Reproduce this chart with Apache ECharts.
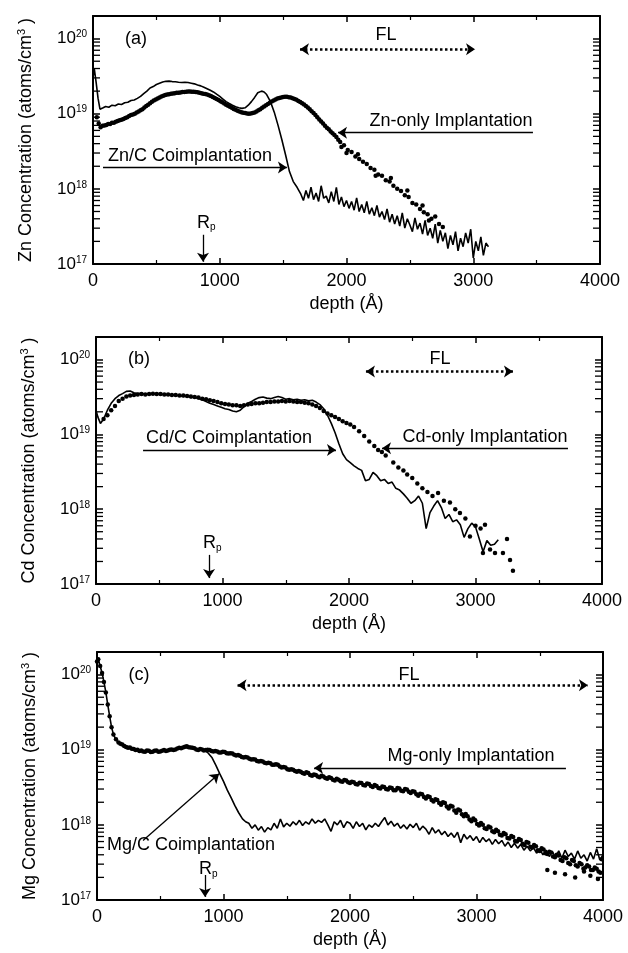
<!DOCTYPE html>
<html>
<head>
<meta charset="utf-8">
<script src="https://cdn.jsdelivr.net/npm/echarts@6/dist/echarts.min.js"></script>
<style>
  html, body { margin: 0; padding: 0; background: #fff; }
  #chart { width: 628px; height: 953px; }
</style>
</head>
<body>
<div id="chart"></div>
<script>
// depth (Å), concentration (atoms/cm^3)
const znCoimpl = [
  [0,3.0e19],[10,4.0e19],[25,2.6e19],[40,1.6e19],[55,1.15e19],[80,1.2e19],[100,1.25e19],[125,1.22e19],[150,1.3e19],
  [175,1.28e19],[200,1.35e19],[225,1.33e19],[250,1.4e19],[275,1.42e19],[300,1.5e19],[325,1.52e19],[350,1.6e19],
  [375,1.7e19],[400,1.85e19],[425,2.0e19],[450,2.2e19],[475,2.3e19],[500,2.45e19],[525,2.55e19],[550,2.65e19],
  [575,2.7e19],[600,2.72e19],[625,2.68e19],[650,2.66e19],[675,2.62e19],[700,2.6e19],[725,2.63e19],[750,2.6e19],
  [775,2.55e19],[800,2.5e19],[825,2.42e19],[850,2.35e19],[875,2.25e19],[900,2.15e19],[925,2.05e19],[950,1.95e19],
  [975,1.82e19],[1000,1.7e19],[1025,1.57e19],[1050,1.45e19],[1075,1.37e19],[1100,1.3e19],[1125,1.24e19],
  [1150,1.2e19],[1175,1.18e19],[1200,1.2e19],[1225,1.3e19],[1250,1.45e19],[1275,1.65e19],[1300,1.9e19],
  [1330,2.0e19],[1350,1.95e19],[1370,1.8e19],[1400,1.45e19],[1430,1.05e19],[1460,7.0e18],[1490,4.5e18],
  [1520,2.8e18],[1550,1.7e18],[1580,1.25e18],[1610,1.05e18],[1640,8.5e17],[1660,7.0e17],[1680,9.5e17],
  [1700,7.5e17],[1720,1.05e18],[1740,7.2e17],[1760,8.8e17],[1780,6.8e17],[1800,1.1e18],[1820,7.5e17],
  [1840,8.0e17],[1860,6.5e17],[1880,9.2e17],[1900,6.8e17],[1920,1.05e18],[1940,6.2e17],[1960,7.8e17],
  [1980,5.8e17],[2000,7.0e17],[2020,5.5e17],[2040,6.8e17],[2060,5.2e17],[2080,7.6e17],[2100,5.0e17],
  [2120,6.2e17],[2140,4.8e17],[2160,6.8e17],[2180,4.6e17],[2200,5.6e17],[2220,4.4e17],[2240,6.0e17],
  [2260,4.2e17],[2280,5.0e17],[2300,3.9e17],[2320,5.4e17],[2340,3.6e17],[2360,4.6e17],[2380,3.4e17],
  [2400,4.4e17],[2420,3.2e17],[2440,4.8e17],[2460,3.0e17],[2480,4.0e17],[2500,3.3e17],[2520,2.7e17],
  [2540,4.1e17],[2560,2.9e17],[2580,3.5e17],[2600,2.5e17],[2620,3.8e17],[2640,2.4e17],[2660,3.0e17],
  [2680,2.2e17],[2700,3.4e17],[2720,1.9e17],[2740,2.8e17],[2760,2.0e17],[2780,2.6e17],[2800,1.6e17],
  [2820,2.4e17],[2840,1.8e17],[2860,2.7e17],[2880,1.5e17],[2900,2.2e17],[2920,1.7e17],[2940,2.6e17],
  [2960,1.9e17],[2980,2.9e17],[3000,1.2e17],[3020,2.0e17],[3040,1.5e17],[3060,2.3e17],[3080,1.3e17],
  [3100,1.9e17],[3120,1.7e17]
];
const znOnly = [
  [30,9.0e18],[45,7.4e18],[60,6.6e18],[75,6.9e18],[90,7.0e18],[105,7.1e18],[120,7.3e18],[135,7.3e18],[150,7.6e18],
  [165,7.6e18],[180,7.8e18],[195,8.0e18],[210,8.2e18],[225,8.3e18],[240,8.5e18],[255,8.8e18],[270,9.0e18],
  [285,9.3e18],[300,9.6e18],[315,9.8e18],[330,1.0e19],[345,1.04e19],[360,1.07e19],[375,1.11e19],[390,1.15e19],
  [405,1.21e19],[420,1.27e19],[435,1.32e19],[450,1.38e19],[465,1.44e19],[480,1.5e19],[495,1.55e19],[510,1.6e19],
  [525,1.65e19],[540,1.7e19],[555,1.74e19],[570,1.78e19],[585,1.8e19],[600,1.82e19],[615,1.84e19],[630,1.86e19],
  [645,1.88e19],[660,1.9e19],[675,1.91e19],[690,1.92e19],[705,1.94e19],[720,1.95e19],[735,1.96e19],[750,1.97e19],
  [765,1.97e19],[780,1.96e19],[795,1.96e19],[810,1.95e19],[825,1.93e19],[840,1.9e19],[855,1.88e19],[870,1.85e19],
  [885,1.83e19],[900,1.8e19],[915,1.76e19],[930,1.72e19],[945,1.67e19],[960,1.62e19],[975,1.57e19],[990,1.52e19],
  [1005,1.47e19],[1020,1.42e19],[1035,1.37e19],[1050,1.32e19],[1065,1.28e19],[1080,1.24e19],[1095,1.2e19],
  [1110,1.16e19],[1125,1.13e19],[1140,1.1e19],[1155,1.07e19],[1170,1.05e19],[1185,1.03e19],[1200,1.02e19],
  [1215,1.01e19],[1230,1.0e19],[1245,1.01e19],[1260,1.02e19],[1275,1.04e19],[1290,1.07e19],[1305,1.11e19],
  [1320,1.15e19],[1335,1.2e19],[1350,1.25e19],[1365,1.3e19],[1380,1.35e19],[1395,1.4e19],[1410,1.45e19],
  [1425,1.5e19],[1440,1.55e19],[1455,1.59e19],[1470,1.62e19],[1485,1.65e19],[1500,1.67e19],[1515,1.68e19],
  [1530,1.68e19],[1545,1.66e19],[1560,1.64e19],[1575,1.61e19],[1590,1.57e19],[1605,1.53e19],[1620,1.48e19],
  [1635,1.43e19],[1650,1.38e19],[1665,1.33e19],[1680,1.27e19],[1695,1.21e19],[1710,1.15e19],[1725,1.08e19],
  [1740,1.02e19],[1755,9.6e18],[1770,9.0e18],[1785,8.4e18],[1800,7.9e18],[1815,7.4e18],[1830,6.9e18],
  [1845,6.5e18],[1860,6.2e18],[1875,5.8e18],[1890,5.5e18],[1905,5.2e18],[1920,4.9e18],[1935,4.5e18],
  [1950,4.2e18],[1960,3.6e18],[1980,3.8e18],[2000,3.0e18],[2010,3.3e18],[2040,3.1e18],[2070,2.7e18],
  [2090,2.9e18],[2100,2.5e18],[2130,2.3e18],[2160,2.15e18],[2190,1.9e18],[2220,1.8e18],[2230,1.5e18],
  [2250,1.55e18],[2280,1.5e18],[2310,1.3e18],[2340,1.25e18],[2350,1.4e18],[2370,1.1e18],[2400,1.0e18],
  [2430,9.4e17],[2460,8.2e17],[2480,9.5e17],[2490,7.8e17],[2520,6.5e17],[2550,6.2e17],[2580,5.4e17],
  [2600,6.0e17],[2610,4.9e17],[2640,4.6e17],[2650,3.8e17],[2670,4.0e17],[2700,4.3e17],[2730,3.4e17],
  [2760,3.1e17]
];
const cdCoimpl = [
  [0,2.1e19],[15,1.7e19],[35,1.4e19],[60,1.6e19],[90,2.1e19],[120,2.6e19],[150,3.0e19],[180,3.3e19],
  [210,3.5e19],[240,3.75e19],[270,3.8e19],[300,3.6e19],[330,3.5e19],[360,3.55e19],[390,3.4e19],[420,3.5e19],
  [450,3.45e19],[480,3.5e19],[510,3.4e19],[540,3.45e19],[570,3.35e19],[600,3.4e19],[630,3.3e19],[660,3.3e19],
  [690,3.2e19],[720,3.25e19],[750,3.1e19],[780,3.15e19],[810,3.0e19],[840,2.9e19],[870,2.75e19],[900,2.6e19],
  [930,2.5e19],[960,2.4e19],[990,2.3e19],[1020,2.2e19],[1050,2.15e19],[1080,2.05e19],[1110,2.0e19],
  [1140,2.1e19],[1170,2.35e19],[1200,2.6e19],[1230,2.75e19],[1260,2.95e19],[1290,3.1e19],[1320,3.15e19],
  [1350,3.05e19],[1380,3.0e19],[1410,3.1e19],[1440,3.2e19],[1470,3.1e19],[1500,2.95e19],[1530,3.0e19],
  [1560,2.9e19],[1590,2.95e19],[1620,2.85e19],[1650,2.9e19],[1680,2.8e19],[1710,2.85e19],[1740,2.7e19],
  [1770,2.5e19],[1800,2.2e19],[1830,1.8e19],[1860,1.4e19],[1890,1.05e19],[1920,7.5e18],[1950,5.5e18],
  [1980,4.6e18],[2010,4.2e18],[2040,3.8e18],[2070,3.5e18],[2100,3.3e18],[2130,2.4e18],[2160,2.5e18],
  [2190,3.1e18],[2220,2.8e18],[2250,2.4e18],[2280,2.5e18],[2310,2.2e18],[2340,2.3e18],[2370,1.9e18],
  [2400,1.8e18],[2430,1.6e18],[2460,1.4e18],[2490,1.2e18],[2520,1.3e18],[2550,1.5e18],[2580,1.2e18],
  [2610,5.5e17],[2640,9.0e17],[2670,1.1e18],[2700,1.3e18],[2730,1.05e18],[2760,7.5e17],[2790,8.5e17],
  [2820,6.8e17],[2850,7.2e17],[2880,6.2e17],[2910,4.2e17],[2940,5.5e17],[2970,6.5e17],[3000,5.8e17],
  [3030,4.0e17],[3060,2.7e17],[3090,3.8e17],[3120,3.3e17],[3150,3.4e17],[3180,3.9e17]
];
const cdOnly = [
  [60,1.6e19],[90,1.8e19],[120,2.1e19],[150,2.4e19],[180,2.8e19],[210,3.0e19],[240,3.2e19],[270,3.3e19],
  [300,3.35e19],[330,3.4e19],[360,3.45e19],[390,3.4e19],[420,3.45e19],[450,3.5e19],[480,3.45e19],[510,3.45e19],
  [540,3.4e19],[570,3.4e19],[600,3.35e19],[630,3.35e19],[660,3.3e19],[690,3.3e19],[720,3.25e19],[750,3.2e19],
  [780,3.15e19],[810,3.1e19],[840,3.0e19],[870,2.95e19],[900,2.85e19],[930,2.8e19],[960,2.7e19],[990,2.6e19],
  [1020,2.55e19],[1050,2.5e19],[1080,2.45e19],[1110,2.45e19],[1140,2.4e19],[1170,2.45e19],[1200,2.5e19],
  [1230,2.55e19],[1260,2.6e19],[1290,2.6e19],[1320,2.65e19],[1350,2.7e19],[1380,2.7e19],[1410,2.75e19],
  [1440,2.75e19],[1470,2.8e19],[1500,2.75e19],[1530,2.8e19],[1560,2.75e19],[1590,2.7e19],[1620,2.7e19],
  [1650,2.65e19],[1680,2.6e19],[1710,2.5e19],[1740,2.4e19],[1770,2.25e19],[1800,2.05e19],[1830,1.9e19],
  [1860,1.8e19],[1890,1.7e19],[1920,1.6e19],[1950,1.5e19],[1980,1.42e19],[2010,1.35e19],[2040,1.25e19],
  [2080,1.1e19],[2120,9.5e18],[2160,8.0e18],[2200,7.0e18],[2230,6.2e18],[2260,5.8e18],[2290,5.2e18],
  [2350,4.2e18],[2390,3.6e18],[2430,3.3e18],[2460,2.9e18],[2500,2.6e18],[2540,2.2e18],[2580,1.9e18],
  [2620,1.7e18],[2660,1.5e18],[2704,1.65e18],[2750,1.3e18],[2798,1.23e18],[2840,1.0e18],[2877,8.9e17],
  [2920,7.5e17],[2956,4.3e17],[3000,6.0e17],[3040,5.5e17],[3059,2.6e17],[3075,6.2e17],[3115,2.9e17],
  [3154,2.6e17],[3217,2.6e17],[3249,4.0e17],[3273,2.1e17],[3296,1.5e17]
];
const mgCoimpl = [
  [0,1.5e20],[10,1.6e20],[25,1.3e20],[40,1.05e20],[55,8.0e19],[70,5.8e19],[85,4.0e19],[100,2.8e19],[115,2.0e19],
  [130,1.6e19],[150,1.35e19],[180,1.2e19],[220,1.1e19],[260,1.05e19],[300,1.0e19],[350,9.6e18],[400,9.5e18],
  [450,9.6e18],[500,9.7e18],[550,9.8e18],[600,1.0e19],[650,1.04e19],[700,1.07e19],[750,1.05e19],[800,1.0e19],
  [850,9.8e18],[880,9.0e18],[910,7.8e18],[940,6.2e18],[970,4.8e18],[1000,3.8e18],[1030,2.9e18],[1060,2.3e18],
  [1090,1.8e18],[1120,1.45e18],[1150,1.2e18],[1175,1.1e18],[1200,1.05e18],[1225,9.0e17],[1250,1.0e18],
  [1275,8.5e17],[1300,9.5e17],[1325,8.0e17],[1350,9.2e17],[1375,8.6e17],[1400,1.05e18],[1425,9.0e17],
  [1450,1.2e18],[1475,9.4e17],[1500,1.05e18],[1525,9.6e17],[1550,1.1e18],[1575,1.0e18],[1600,1.15e18],
  [1625,9.8e17],[1650,1.1e18],[1675,1.02e18],[1700,1.2e18],[1725,1.05e18],[1750,1.15e18],[1775,1.08e18],
  [1800,1.2e18],[1825,1.0e18],[1850,8.2e17],[1875,1.1e18],[1900,1.0e18],[1925,1.15e18],[1950,9.2e17],
  [1975,1.1e18],[2000,1.05e18],[2025,9.0e17],[2050,1.1e18],[2075,9.5e17],[2100,1.05e18],[2125,8.6e17],
  [2150,1.0e18],[2175,9.3e17],[2200,1.05e18],[2225,9.5e17],[2250,1.1e18],[2275,1.25e18],[2300,1.0e18],
  [2325,1.12e18],[2350,9.6e17],[2375,1.05e18],[2400,9.0e17],[2425,1.0e18],[2450,8.8e17],[2475,1.02e18],
  [2500,9.2e17],[2525,1.05e18],[2550,8.5e17],[2575,9.6e17],[2600,8.8e17],[2625,7.5e17],[2650,9.2e17],
  [2675,7.8e17],[2700,8.6e17],[2725,7.4e17],[2750,8.2e17],[2775,7.0e17],[2800,7.8e17],[2825,6.8e17],
  [2850,8.0e17],[2875,5.8e17],[2900,7.5e17],[2925,6.5e17],[2950,7.2e17],[2975,6.2e17],[3000,7.0e17],
  [3025,5.8e17],[3050,6.8e17],[3075,6.0e17],[3100,6.5e17],[3125,5.5e17],[3150,6.4e17],[3175,5.6e17],
  [3200,6.2e17],[3225,5.2e17],[3250,5.9e17],[3275,5.0e17],[3300,5.7e17],[3325,4.9e17],[3350,5.5e17],
  [3375,4.6e17],[3400,5.2e17],[3425,4.5e17],[3450,5.0e17],[3475,4.2e17],[3500,4.8e17],[3525,4.0e17],
  [3550,4.6e17],[3575,3.8e17],[3600,4.4e17],[3625,3.7e17],[3650,4.5e17],[3675,3.6e17],[3700,4.6e17],
  [3725,3.8e17],[3750,4.2e17],[3775,3.5e17],[3800,4.5e17],[3825,3.6e17],[3850,4.0e17],[3875,3.3e17],
  [3900,4.3e17],[3925,3.5e17],[3950,4.8e17],[3975,3.4e17],[4000,4.0e17]
];
const mgOnly = [
  [0,1.5e20],[10,1.6e20],[25,1.3e20],[40,1.05e20],[55,8.0e19],[70,5.8e19],[85,4.0e19],[100,2.8e19],[115,2.0e19],
  [130,1.6e19],[150,1.38e19],[170,1.25e19],[185,1.2e19],[200,1.17e19],[215,1.12e19],[230,1.09e19],[245,1.06e19],
  [260,1.07e19],[275,1.03e19],[290,1.02e19],[305,9.9e18],[320,1.0e19],[335,9.6e18],[350,9.8e18],[365,9.5e18],
  [380,9.4e18],[395,9.8e18],[410,9.7e18],[425,9.3e18],[440,9.4e18],[455,9.7e18],[470,9.8e18],[485,9.4e18],
  [500,9.5e18],[515,9.7e18],[530,9.9e18],[545,9.6e18],[560,9.8e18],[575,1.0e19],[590,1.01e19],[605,9.9e18],
  [620,1.01e19],[635,1.04e19],[650,1.06e19],[665,1.05e19],[680,1.07e19],[695,1.1e19],[710,1.11e19],[725,1.08e19],
  [740,1.07e19],[755,1.06e19],[770,1.05e19],[785,1.01e19],[800,9.9e18],[815,1.02e19],[830,1.01e19],[845,9.8e18],
  [860,9.9e18],[875,1.0e19],[890,9.9e18],[905,9.6e18],[920,9.5e18],[935,9.6e18],[950,9.5e18],[965,9.2e18],
  [980,9.2e18],[995,9.4e18],[1010,9.3e18],[1025,9.0e18],[1040,8.9e18],[1055,9.0e18],[1070,8.9e18],[1085,8.6e18],
  [1100,8.4e18],[1115,8.5e18],[1130,8.3e18],[1145,8.0e18],[1160,7.9e18],[1175,8.0e18],[1190,7.9e18],[1205,7.6e18],
  [1220,7.4e18],[1235,7.5e18],[1250,7.4e18],[1265,7.1e18],[1280,7.0e18],[1295,7.1e18],[1310,7.0e18],[1325,6.7e18],
  [1340,6.6e18],[1355,6.7e18],[1370,6.6e18],[1385,6.3e18],[1400,6.3e18],[1415,6.4e18],[1430,6.3e18],[1445,6.0e18],
  [1460,5.8e18],[1475,5.9e18],[1490,5.8e18],[1505,5.5e18],[1520,5.4e18],[1535,5.5e18],[1550,5.4e18],[1565,5.2e18],
  [1580,5.1e18],[1595,5.2e18],[1610,5.1e18],[1625,4.9e18],[1640,4.8e18],[1655,5.0e18],[1670,4.9e18],[1685,4.6e18],
  [1700,4.5e18],[1715,4.7e18],[1730,4.6e18],[1745,4.4e18],[1760,4.3e18],[1775,4.5e18],[1790,4.4e18],[1805,4.2e18],
  [1820,4.1e18],[1835,4.3e18],[1850,4.2e18],[1865,4.0e18],[1880,3.9e18],[1895,4.1e18],[1910,4.0e18],[1925,3.8e18],
  [1940,3.75e18],[1955,3.95e18],[1970,3.9e18],[1985,3.7e18],[2000,3.6e18],[2015,3.75e18],[2030,3.7e18],
  [2045,3.5e18],[2060,3.45e18],[2075,3.65e18],[2090,3.6e18],[2105,3.4e18],[2120,3.35e18],[2135,3.55e18],
  [2150,3.5e18],[2165,3.3e18],[2180,3.2e18],[2195,3.4e18],[2210,3.3e18],[2225,3.1e18],[2240,3.05e18],
  [2255,3.25e18],[2270,3.2e18],[2285,3.0e18],[2300,2.95e18],[2315,3.15e18],[2330,3.1e18],[2345,2.9e18],
  [2360,2.9e18],[2375,3.1e18],[2390,3.05e18],[2405,2.85e18],[2420,2.8e18],[2435,3.0e18],[2450,2.95e18],
  [2465,2.75e18],[2480,2.65e18],[2495,2.8e18],[2510,2.75e18],[2525,2.55e18],[2540,2.45e18],[2555,2.6e18],
  [2570,2.55e18],[2585,2.35e18],[2600,2.25e18],[2615,2.4e18],[2630,2.35e18],[2645,2.15e18],[2660,2.05e18],
  [2675,2.2e18],[2690,2.15e18],[2705,1.95e18],[2720,1.85e18],[2735,2.0e18],[2750,1.95e18],[2765,1.75e18],
  [2780,1.65e18],[2795,1.8e18],[2810,1.75e18],[2825,1.55e18],[2840,1.45e18],[2855,1.6e18],[2870,1.55e18],
  [2885,1.38e18],[2900,1.3e18],[2915,1.4e18],[2930,1.3e18],[2945,1.18e18],[2960,1.12e18],[2975,1.22e18],
  [2990,1.15e18],[3005,1.03e18],[3020,9.8e17],[3035,1.06e18],[3050,1.0e18],[3065,9.0e17],[3080,8.8e17],
  [3095,9.5e17],[3110,9.2e17],[3125,8.2e17],[3140,8.0e17],[3155,8.6e17],[3170,8.2e17],[3185,7.4e17],
  [3200,7.2e17],[3215,7.8e17],[3230,7.5e17],[3245,6.7e17],[3260,6.6e17],[3275,7.1e17],[3290,6.9e17],
  [3305,6.1e17],[3320,6.0e17],[3335,6.5e17],[3350,6.3e17],[3365,5.6e17],[3380,5.4e17],[3395,5.9e17],
  [3410,5.8e17],[3425,5.1e17],[3440,5.0e17],[3455,5.4e17],[3470,5.2e17],[3485,4.6e17],[3500,4.5e17],
  [3515,4.9e17],[3530,4.7e17],[3545,4.2e17],[3560,4.1e17],[3560,2.5e17],[3575,4.4e17],[3590,4.3e17],
  [3605,3.8e17],[3620,3.7e17],[3620,2.3e17],[3635,4.0e17],[3650,3.9e17],[3665,3.4e17],[3680,3.3e17],
  [3695,3.7e17],[3700,2.2e17],[3710,3.6e17],[3725,3.1e17],[3740,3.0e17],[3755,3.4e17],[3770,3.3e17],
  [3780,2.0e17],[3785,2.9e17],[3800,2.8e17],[3815,3.1e17],[3830,3.0e17],[3845,2.6e17],[3850,2.4e17],
  [3860,2.7e17],[3875,2.9e17],[3890,2.8e17],[3900,2.1e17],[3905,2.5e17],[3920,2.5e17],[3935,2.7e17],
  [3950,2.6e17],[3960,1.9e17],[3965,2.4e17],[3980,2.3e17],[3990,3.5e17]
];
// log-axis minor tick values (2..9 of each decade)
const logMinorTicks = [
  2e17, 3e17, 4e17, 5e17, 6e17, 7e17, 8e17, 9e17,
  2e18, 3e18, 4e18, 5e18, 6e18, 7e18, 8e18, 9e18,
  2e19, 3e19, 4e19, 5e19, 6e19, 7e19, 8e19, 9e19
];
const depthMin = 0, depthMax = 4000, depthStep = 1000;
const concMin = 1e17, concMax = 2e20;

const FONT = '"Liberation Sans", Arial, Helvetica, sans-serif';
const INK = '#000';

const panels = [
  {
    grid: { left: 93, top: 16, width: 507, height: 248 },
    element: 'Zn', coimpl: znCoimpl, only: znOnly,
    texts: [
      { name: '(a)', coord: [340, 1.0e20] },
      { name: 'FL', coord: [2312, 1.1e20] },
      { name: 'Zn-only Implantation', coord: [2824, 7.9e18] },
      { name: 'Zn/C Coimplantation', coord: [765, 2.7e18] },
      { name: '{r|R}{p|p}', coord: [893, 3.55e17] }
    ],
    fl: [[1633, 7.2e19], [3014, 7.2e19]],
    arrows: [
      [[3471, 5.6e18], [1933, 5.6e18]],
      [[79, 1.93e18], [1530, 1.93e18]],
      [[868, 2.45e17], [868, 1.07e17]]
    ]
  },
  {
    grid: { left: 96, top: 337, width: 506, height: 247 },
    element: 'Cd', coimpl: cdCoimpl, only: cdOnly,
    texts: [
      { name: '(b)', coord: [340, 1.0e20] },
      { name: 'FL', coord: [2719, 1.0e20] },
      { name: 'Cd/C Coimplantation', coord: [1052, 9.0e18] },
      { name: 'Cd-only Implantation', coord: [3075, 9.3e18] },
      { name: '{r|R}{p|p}', coord: [920, 3.55e17] }
    ],
    fl: [[2134, 6.9e19], [3296, 6.9e19]],
    arrows: [
      [[372, 6.2e18], [1897, 6.2e18]],
      [[3731, 6.5e18], [2261, 6.5e18]],
      [[894, 2.45e17], [894, 1.2e17]]
    ]
  },
  {
    grid: { left: 97, top: 652, width: 506, height: 248 },
    element: 'Mg', coimpl: mgCoimpl, only: mgOnly,
    texts: [
      { name: '(c)', coord: [332, 1.0e20] },
      { name: 'FL', coord: [2466, 1.0e20] },
      { name: 'Mg-only Implantation', coord: [2957, 8.3e18] },
      { name: 'Mg/C Coimplantation', coord: [743, 5.4e17] },
      { name: '{r|R}{p|p}', coord: [880, 2.6e17] }
    ],
    fl: [[1111, 7.2e19], [3881, 7.2e19]],
    arrows: [
      [[3707, 5.7e18], [1716, 5.7e18]],
      [[364, 6.2e17], [965, 4.8e18]],
      [[854, 2.15e17], [854, 1.1e17]]
    ]
  }
];

function frameLine() {
  return { show: true, onZero: false, lineStyle: { color: INK, width: 2 } };
}

const grid = [], xAxis = [], yAxis = [], series = [];

panels.forEach((p, i) => {
  grid.push(Object.assign({ outerBoundsMode: 'none', containLabel: false }, p.grid));

  const xBase = {
    type: 'value', gridIndex: i, min: depthMin, max: depthMax, interval: depthStep,
    axisLine: frameLine(),
    axisTick: { show: true, inside: true, length: 6, lineStyle: { color: INK, width: 1.5 } },
    minorTick: { show: true, splitNumber: 2, length: 4, lineStyle: { color: INK, width: 1.2 } },
    splitLine: { show: false }, minorSplitLine: { show: false }
  };
  xAxis.push(Object.assign({}, xBase, {
    position: 'bottom',
    axisLabel: { color: INK, fontSize: 18, fontFamily: FONT, margin: 8, formatter: v => String(v) },
    name: 'depth (Å)', nameLocation: 'middle', nameGap: 31,
    nameTextStyle: { color: INK, fontSize: 18, fontFamily: FONT }
  }));
  xAxis.push(Object.assign({}, xBase, { position: 'top', axisLabel: { show: false } }));

  const yBase = {
    type: 'log', logBase: 10, gridIndex: i, min: concMin, max: concMax,
    axisLine: frameLine(),
    axisTick: { show: true, inside: true, length: 7, lineStyle: { color: INK, width: 1.5 } },
    splitLine: { show: false }
  };
  yAxis.push(Object.assign({}, yBase, {
    position: 'left',
    axisLabel: {
      margin: 6, showMaxLabel: false,
      formatter: v => '{b|10}{s|' + Math.round(Math.log10(v)) + '}',
      rich: {
        b: { fontSize: 17, lineHeight: 17, fontFamily: FONT, color: INK, verticalAlign: 'bottom' },
        s: { fontSize: 10, lineHeight: 10, fontFamily: FONT, color: INK, padding: [0, 0, 8, 0] }
      }
    },
    name: '{t|' + p.element + ' Concentration (atoms/cm}{u|3}{t| )}',
    nameLocation: 'middle', nameGap: 58,
    nameTextStyle: {
      rich: {
        t: { fontSize: 18, lineHeight: 18, fontFamily: FONT, color: INK, verticalAlign: 'bottom' },
        u: { fontSize: 11, lineHeight: 11, fontFamily: FONT, color: INK, padding: [0, 0, 9, 0] }
      }
    }
  }));
  yAxis.push(Object.assign({}, yBase, { position: 'right', axisLabel: { show: false } }));

  const markLineData = [
    [
      { coord: p.fl[0], symbol: 'arrow', lineStyle: { type: 'dotted', width: 2.5, color: INK } },
      { coord: p.fl[1], symbol: 'arrow' }
    ]
  ].concat(p.arrows.map(a => [
    { coord: a[0], symbol: 'none', lineStyle: { type: 'solid', width: 1.3, color: INK } },
    { coord: a[1], symbol: 'arrow' }
  ]));

  series.push({
    type: 'line', name: p.element + '/C Coimplantation',
    xAxisIndex: 2 * i, yAxisIndex: 2 * i,
    data: p.coimpl, showSymbol: false, symbol: 'none',
    lineStyle: { color: INK, width: 1.6 }, z: 3,
    markLine: {
      silent: true, symbolSize: 9, label: { show: false },
      emphasis: { disabled: true },
      data: markLineData
    },
    markPoint: {
      silent: true, symbol: 'circle', symbolSize: 0,
      itemStyle: { color: 'rgba(0,0,0,0)' },
      label: {
        show: true, position: 'inside', color: INK, fontSize: 18, fontFamily: FONT,
        formatter: d => d.name,
        rich: {
          r: { fontSize: 18, lineHeight: 18, fontFamily: FONT, color: INK, verticalAlign: 'top' },
          p: { fontSize: 10, lineHeight: 10, fontFamily: FONT, color: INK, padding: [10, 0, 0, 0] }
        }
      },
      data: p.texts
    }
  });
  series.push({
    type: 'scatter', name: p.element + '-only Implantation',
    xAxisIndex: 2 * i, yAxisIndex: 2 * i,
    data: p.only, symbol: 'circle', symbolSize: 4.5,
    itemStyle: { color: INK, opacity: 1 }, z: 4
  });
  // log minor ticks on the left and right frame edges, placed through the y scale
  [[depthMin, 3.5], [depthMax, -3.5]].forEach(([edge, off]) => {
    series.push({
      type: 'scatter', xAxisIndex: 2 * i, yAxisIndex: 2 * i,
      data: logMinorTicks.map(v => [edge, v]),
      symbol: 'rect', symbolSize: [7, 1.3], symbolOffset: [off, 0],
      itemStyle: { color: INK, opacity: 1 }, silent: true, clip: false, z: 5
    });
  });
});

const chart = echarts.init(document.getElementById('chart'), null, { renderer: 'canvas' });
chart.setOption({
  animation: false,
  backgroundColor: '#fff',
  textStyle: { fontFamily: FONT },
  grid: grid,
  xAxis: xAxis,
  yAxis: yAxis,
  series: series
});
</script>
</body>
</html>
